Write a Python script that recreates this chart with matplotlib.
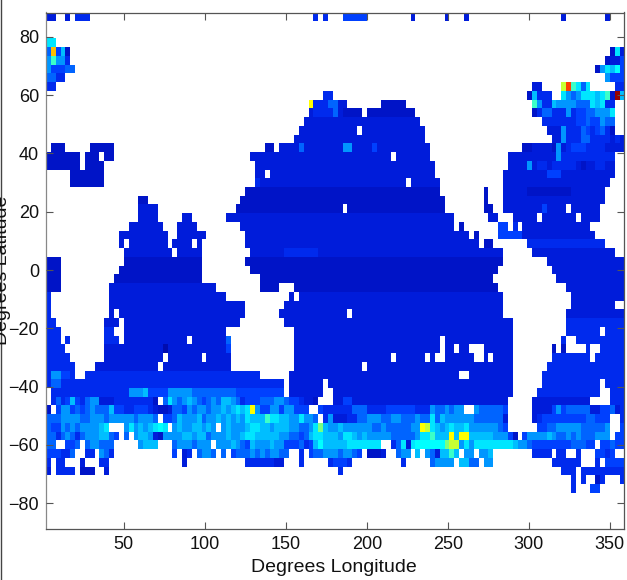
import numpy as np
import matplotlib
matplotlib.use("Agg")
import matplotlib.pyplot as plt
from matplotlib.colors import LinearSegmentedColormap
from matplotlib.lines import Line2D

plt.rcParams['font.family'] = ['Liberation Sans', 'DejaVu Sans']

X_TICKS = [50, 100, 150, 200, 250, 300, 350]
Y_TICKS = [-80, -60, -40, -20, 0, 20, 40, 60, 80]
X_LABEL = "Degrees Longitude"
Y_LABEL = "Degrees Latitude"

# value of each reading level on the colour scale
LEVELS = dict(a=.045, b=.075, c=.10, d=.13, e=.16, f=.20, g=.25, h=.30, i=.35, j=.39,
              k=.44, l=.50, m=.57, n=.63, o=.70, p=.83, q=.98)

# colour scale: jet-like, with the slightly greenish blues of the reference
SCALE = [(0, (0, 8, 150)), (.045, (0, 12, 175)), (.075, (0, 20, 200)), (.10, (0, 28, 218)),
         (.13, (0, 42, 238)), (.16, (0, 65, 255)), (.20, (0, 100, 255)), (.25, (0, 150, 255)),
         (.30, (0, 190, 255)), (.35, (0, 230, 255)), (.39, (0, 255, 255)), (.44, (60, 255, 200)),
         (.50, (120, 255, 130)), (.57, (200, 255, 50)), (.63, (255, 255, 0)), (.70, (255, 190, 0)),
         (.83, (255, 60, 0)), (.98, (150, 0, 0)), (1, (128, 0, 0))]

# grid rows, north to south: row index -> [(first column, readings)]; later pieces overwrite, '.' = no data
ROWS = {
 0: [(0,"cc"),(4,"c"),(6,"ddd"),(55,"d"),(57,"d"),(61,"eeeee"),(75,"c"),(82,"c"),(86,"c"),(106,"c"),(115,"c")],
 3: [(0,"ii")],
 4: [(0,"foeh"),(4,"b"),(116,"bic")],
 5: [(0,"gkggd"),(115,"bcce")],
 6: [(0,"geeeff"),(113,"bg"),(115,"ihje")],
 7: [(0,"ffdd"),(115,"geee")],
 8: [(0,"dd"),(100,"cc"),(106,"mpkifi"),(117,"dd")],
 9: [(57,"dd"),(99,"bhddd"),(106,"igfgiiihikbqh")],
 10: [(54,"nddd"),(58,"ff"),(60,"cc"),(69,"bbbbb"),(100,"kgddhggggfffihidd")],
 11: [(54,"cddddfcbbbb"),(66,"b"*10),(100,"bdffdddgdeeffgggi")],
 12: [(53,"c"*24),(102,"dddddddeefeegff")],
 13: [(52,"c"*26),(64,"."),(103,"cccgdddfedefdb")],
 14: [(51,"c"*27),(104,"ccgdddffddddcdc")],
 15: [(1,"bbb"),(9,"bbbbb"),(45,"bb"),(48,"c"*31),(52,"f"),(61,"gg"),(67,"e"),(98,"bbccccbgcdeeeddddcccc")],
 16: [(0,"b"*7),(8,"bbb"),(12,"bb"),(42,"c"*37),(71,"."),(95,"c"*10+"g"+"d"*11)],
 17: [(0,"b"*7),(8,"b"*4),(43,"c"*37),(95,"ccccgcddcdddddcbccddcc")],
 18: [(5,"b"*7),(43,"cc"),(46,"c"*34),(94,"c"*23),(103,"eee")],
 19: [(5,"b"*7),(43,"d"),(44,"c"*37),(74,"."),(94,"c"*22)],
 20: [(41,"b"*40),(90,"b"),(94,"c"*21),(99,"b"*9)],
 21: [(19,"bb"),(40,"b"*42),(90,"b"),(94,"c"*21)],
 22: [(19,"c"*4),(39,"b"*43),(61,"."),(90,"bb"),(94,"c"*20),(102,"e"),(107,".")],
 23: [(19,"c"*4),(28,"cc"),(37,"c"*47),(91,"cc"),(96,"c"*5),(102,"c"*7),(110,"c"*4)],
 24: [(17,"c"*7),(27,"c"*4),(40,"c"*44),(85,"b"),(93,"ee"),(96,"d"),(98,"c"*14)],
 25: [(15,"c"*10),(27,"c"*6),(41,"c"*46),(88,"b"),(93,"e"*5),(98,"c"*15)],
 26: [(15,"c"),(17,"c"*8),(26,"c"*4),(31,"c"),(41,"c"*48),(90,"bb"),(99,"d"*16)],
 27: [(16,"c"*10),(27,"c"*5),(42,"c"*52),(100,"c"*17),(49,"d"*7)],
 28: [(0,"bbb"),(16,"b"*16),(41,"b"*53),(103,"c"*16)],
 29: [(0,"bbb"),(15,"b"*17),(42,"b"*51),(104,"c"*15)],
 30: [(0,"bbb"),(14,"b"*18),(44,"b"*48),(105,"c"*14)],
 31: [(0,"bbb"),(13,"c"*22),(44,"bbbb"),(51,"b"*42),(107,"c"*12)],
 32: [(0,"d"),(13,"c"*24),(50,"c"),(52,"c"*42),(108,"c"*11)],
 33: [(0,"d"),(13,"c"*28),(49,"c"*45),(108,"c"*9)],
 34: [(0,"d"),(13,"c"),(15,"c"*26),(48,"c"*46),(62,"."),(107,"c"*12)],
 35: [(0,"dd"),(12,"ccc"),(16,"c"*24),(49,"c"*47),(107,"d"*12)],
 36: [(0,"ddd"),(12,"dd"),(16,"c"*21),(51,"c"*45),(107,"d"*12),(114,".")],
 37: [(0,"ddd"),(4,"d"),(12,"ddd"),(16,"c"*13),(30,"c"*7),(37,"f"),(51,"c"*45),(81,"."),(106,"d"),(109,"d"*10)],
 38: [(0,"dddd"),(12,"c"*25),(24,"a"),(37,"e"),(51,"c"*45),(81,"."),(84,"."),(87,"..."),(104,"b"),(106,"b"),(111,"d"),(114,"d"*5)],
 39: [(0,"d"*5),(12,"c"*12),(25,"c"*7),(33,"c"*5),(51,"c"*45),(71,"."),(78,"."),(80,".."),(88,".."),(91,"."),(104,"d"*15),(112,".")],
 40: [(0,"d"*6),(10,"c"*13),(24,"c"*14),(51,"c"*45),(65,"."),(103,"d"*16)],
 41: [(0,"dggeed"),(8,"d"*36),(50,"c"*46),(85,".."),(102,"d"*17)],
 42: [(0,"d"*49),(1,"ff"),(50,"c"*46),(57,"."),(102,"d"*17),(114,".")],
 43: [(1,"d"*16),(17,"gggh"),(21,"eeee"),(25,"ggggg"),(30,"f"*9),(39,"e"*10),(50,"c"*46),(57,".."),(101,"d"*18),(114,"..")],
 44: [(1,"dfdehedfggcccddddddddb"),(24,"figfghgfefgfhhgf"),(40,"deeefffggfee"),(52,"dccb"),(59,"c"*36),(61,"ee"),(100,"c"*12),(116,"ddd")],
 45: [(0,"b"),(2,"eggefefgfffheeddeeedcbbcffegfggfgghghi"),(40,"hing"),(44,"eeggeggeee"),(56,"ed"),(58,"d"*28),(63,"fff"),(70,"eeeeee"),(79,"gffgfgg"),(88,"gfffffe"),(100,"ccccegefffffcceefcd")],
 46: [(0,"fffggggffgggfgggggfgggf"),(24,"eefhggghfgghghgh"),(40,"gihhhkiihhggiggf"),(57,"dgcccddffgggffggfffgff"),(79,"ifhgggggg"),(88,"ffffffc"),(100,"cdeeeeeeeeeffeee"),(118,"d")],
 47: [(0,"feegfgfgggghi"),(16,"gighghiji"),(26,"ghgghhghg"),(36,"ghgg"),(40,"ghiihhghhhggffgil"),(57,"hgghggg"),(64,"gggffgfffffggnm"),(79,"ihghihhiggggggfe"),(101,"eeffgggggfffffg"),(118,"e")],
 48: [(0,"ffdfgfdfggghhfe"),(16,"f"),(18,"ghhgcbgg"),(26,"gghhghhfggghgg"),(40,"hiihhhhhggffefhi"),(56,"ihhhg"),(61,"ii"),(63,"hghgggg"),(70,"gfffffg"),(77,"iik"),(80,"hhhnhnn"),(87,"hhhhhggge"),(96,"b"),(98,"e"),(99,"gggghgffgfg"),(110,"fffggg"),(117,"ee")],
 49: [(0,"ff"),(4,"eef"),(8,"fggfff"),(19,"ghhh"),(26,"fgggfggg"),(35,"ggghg"),(40,"fehgggh"),(47,"ggeeefdeh"),(56,"jh"),(58,"hhhh"),(62,"iiiiiii"),(71,"dficijjj"),(79,"jjjlmmgig"),(88,"iiiiiiii"),(96,"hggf"),(100,"eeeeeeeefffee"),(114,"eefee")],
 50: [(0,"eeeddf"),(8,"dd"),(11,"gfd"),(26,"e"),(28,"cd"),(31,"fggf"),(36,"f"),(38,"efffgfgfggff"),(52,"d"),(54,"effgggfggfe"),(66,"bbbc"),(72,"fgg"),(76,"h"),(78,"gfchhkh"),(86,"gg"),(89,"ggh"),(100,"dddd"),(105,"dd"),(109,"d"),(113,"eede")],
 51: [(0,"d"),(2,"dd"),(7,"c"),(11,"dd"),(28,"c"),(41,"ddddddcc"),(52,"d"),(58,"deeed"),(73,"d"),(79,"fgggg"),(85,"hhff"),(90,"gg"),(104,"dddddd"),(113,"d"),(115,"eeee")],
 52: [(0,"c"),(2,"dddd"),(7,"bbb"),(12,"c"),(60,"d"),(106,"ddd"),(110,"d"*9)],
 53: [(108,"d"),(110,"d"),(113,"bd"),(118,"d")],
 54: [(108,"d"),(112,"ee")],
}

N_ROWS, N_COLS = 59, 119
grid = np.full((N_ROWS, N_COLS), np.nan)
for row, pieces in ROWS.items():
    for start, readings in pieces:
        for k, ch in enumerate(readings):
            grid[row, start + k] = np.nan if ch == "." else LEVELS[ch]

lon_edges = 2 + 3.0 * np.arange(N_COLS + 1)
lat_edges = 88.5 - 3.0 * np.arange(N_ROWS + 1)

cmap = LinearSegmentedColormap.from_list(
    "ocean_jet", [(v, tuple(c / 255 for c in rgb)) for v, rgb in SCALE], N=512)

fig = plt.figure(figsize=(6.27, 5.80), dpi=100)
W, H = 627, 580
ax = fig.add_axes([46 / W, 1 - 529 / H, (623.5 - 46) / W, (529 - 12.5) / H])
ax.pcolormesh(lon_edges, lat_edges, np.ma.masked_invalid(grid), cmap=cmap, vmin=0, vmax=1,
              shading="flat", antialiased=False, linewidth=0)
ax.set_xlim(2, 358.4)
ax.set_ylim(-88.9, 88.4)
ax.set_xticks(X_TICKS)
ax.set_yticks(Y_TICKS)
ax.tick_params(direction="in", length=5, width=0.8, color="#555555", top=True, right=True,
               labelsize=13, labelcolor="#111111", pad=5)
for s in ax.spines.values():
    s.set_color("#555555")
    s.set_linewidth(0.9)
ax.spines["left"].set_color("#888888")
ax.set_axisbelow(False)
fig.text(334 / W, 1 - 568 / H, X_LABEL, ha="center", va="center", fontsize=14, color="#111111")
fig.text(3 / W, 1 - 270 / H, Y_LABEL, rotation=90, ha="center", va="center", fontsize=14, color="#111111")
fig.add_artist(Line2D([1 / W, 1 / W], [0, 1], color="#444444", lw=1.0))
fig.savefig("out.png", dpi=100)
